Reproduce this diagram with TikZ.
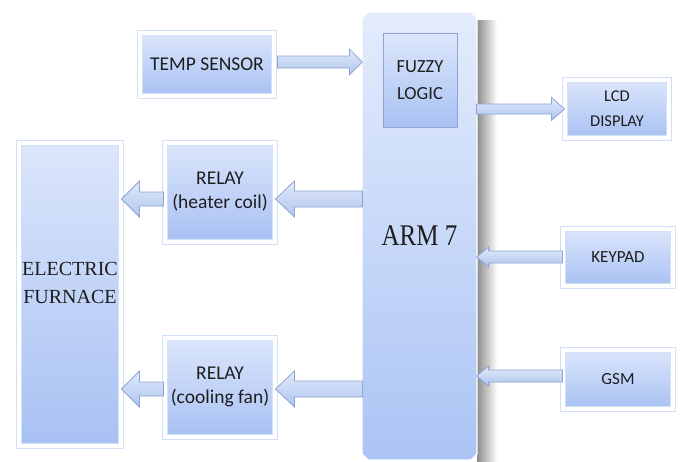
\documentclass[tikz,border=0pt]{standalone}
\usepackage{fontspec}
\setmainfont{Liberation Serif}
\newfontfamily\calibri{Carlito}
\usetikzlibrary{calc,shapes.misc}

\definecolor{boxtop}{HTML}{DCE6FB}
\definecolor{boxbot}{HTML}{A8C1F3}
\definecolor{frameline}{HTML}{D3E1F6}
\definecolor{arrowline}{HTML}{8CA5D2}
\definecolor{arrowtop}{HTML}{E2EAFA}
\definecolor{arrowbot}{HTML}{AFC4EE}
\definecolor{armtop}{HTML}{E4ECFC}
\definecolor{armbot}{HTML}{ABC4F5}
\definecolor{txt}{HTML}{1E1E1E}

% block arrow: from, to, shaft half width, head half width, head length
\newcommand\blockarrow[5]{%
  \path #1 coordinate (bas) #2 coordinate (bae);
  \coordinate (bah) at ($(bae)!#5!(bas)$);
  \draw[blockarrow] ($(bas)!#3!90:(bae)$) -- ($(bah)!#3!-90:(bas)$)
    -- ($(bah)!#4!-90:(bas)$) -- (bae) -- ($(bah)!#4!90:(bas)$)
    -- ($(bah)!#3!90:(bas)$) -- ($(bas)!#3!-90:(bae)$) -- cycle;
}

\begin{document}
\begin{tikzpicture}[x=1pt, y=-1pt,
  every node/.style={text=txt, align=center, inner sep=0pt},
  unit/.style={rectangle, top color=boxtop, bottom color=boxbot, draw=frameline,
    line width=1pt, double=white, double distance=4pt},
  logicbox/.style={rectangle, top color=boxtop, bottom color=boxbot, draw=arrowline,
    line width=0.6pt},
  arm/.style={chamfered rectangle, chamfered rectangle xsep=3pt, chamfered rectangle ysep=3pt,
    top color=armtop, bottom color=armbot, draw=white, line width=1.2pt},
  blockarrow/.style={draw=arrowline, line width=0.8pt, top color=arrowtop,
    bottom color=arrowbot, line join=miter}]
  \useasboundingbox (0,0) rectangle (682,461);

  % controller
  \shade[left color=black!45, right color=white] (477,20) rectangle (497,461);
  \node[arm, minimum width=115, minimum height=448] (arm) at (419.5,236)
    {\fontsize{25}{30}\selectfont\scalebox{1}[1.2]{ARM 7}};
  \node[logicbox, minimum width=74, minimum height=94, font=\calibri\fontsize{18.5}{27}\selectfont] (fuzzy) at (420,80) {FUZZY\\LOGIC};

  % inputs
  \node[unit, minimum width=134, minimum height=63, font=\calibri\fontsize{19.5}{24}\selectfont] (temp) at (207,64) {TEMP SENSOR};
  \node[unit, minimum width=110, minimum height=57, font=\calibri\fontsize{17}{25}\selectfont] (keypad) at (618,257) {KEYPAD};
  \node[unit, minimum width=110, minimum height=59, font=\calibri\fontsize{17}{25}\selectfont] (gsm) at (618,379) {GSM};

  % outputs
  \node[unit, minimum width=104, minimum height=58, font=\calibri\fontsize{16.5}{25}\selectfont] (lcd) at (617,109) {LCD\\DISPLAY};
  \node[unit, minimum width=110, minimum height=99, font=\calibri\fontsize{19.5}{24}\selectfont] (relayh) at (220,192) {RELAY\\(heater coil)};
  \node[unit, minimum width=110, minimum height=99, font=\calibri\fontsize{19.5}{24}\selectfont] (relayc) at (220,387) {RELAY\\(cooling fan)};
  \node[unit, minimum width=102, minimum height=303,
    label={[font=\fontsize{20}{28}\selectfont, align=center, yshift=11pt]center:ELECTRIC\\FURNACE}] (furnace) at (70,294) {};

  % connections
  \blockarrow{($(temp.east)+(3,-2)$)}{($(arm.west |- temp.east)+(1,-2)$)}{6pt}{13pt}{13pt}
  \blockarrow{($(arm.east |- lcd.west)+(-1,0)$)}{(lcd.west)}{5pt}{11.5pt}{13pt}
  \blockarrow{($(arm.west |- relayh.east)+(1,7)$)}{($(relayh.east)+(0,7)$)}{8pt}{18pt}{19pt}
  \blockarrow{($(relayh.west)+(-1,7)$)}{($(furnace.east |- relayh.west)+(0,7)$)}{7pt}{18pt}{18pt}
  \blockarrow{($(arm.west |- relayc.east)+(1,2)$)}{($(relayc.east)+(0,2)$)}{8pt}{18pt}{19pt}
  \blockarrow{($(relayc.west)+(-1,2)$)}{($(furnace.east |- relayc.west)+(0,2)$)}{7pt}{18pt}{18pt}
  \blockarrow{(keypad.west)}{($(arm.east |- keypad.west)+(-1,0)$)}{6pt}{10pt}{12pt}
  \blockarrow{($(gsm.west)+(0,-3)$)}{($(arm.east |- gsm.west)+(-1,-3)$)}{6pt}{10pt}{12pt}
\end{tikzpicture}
\end{document}
